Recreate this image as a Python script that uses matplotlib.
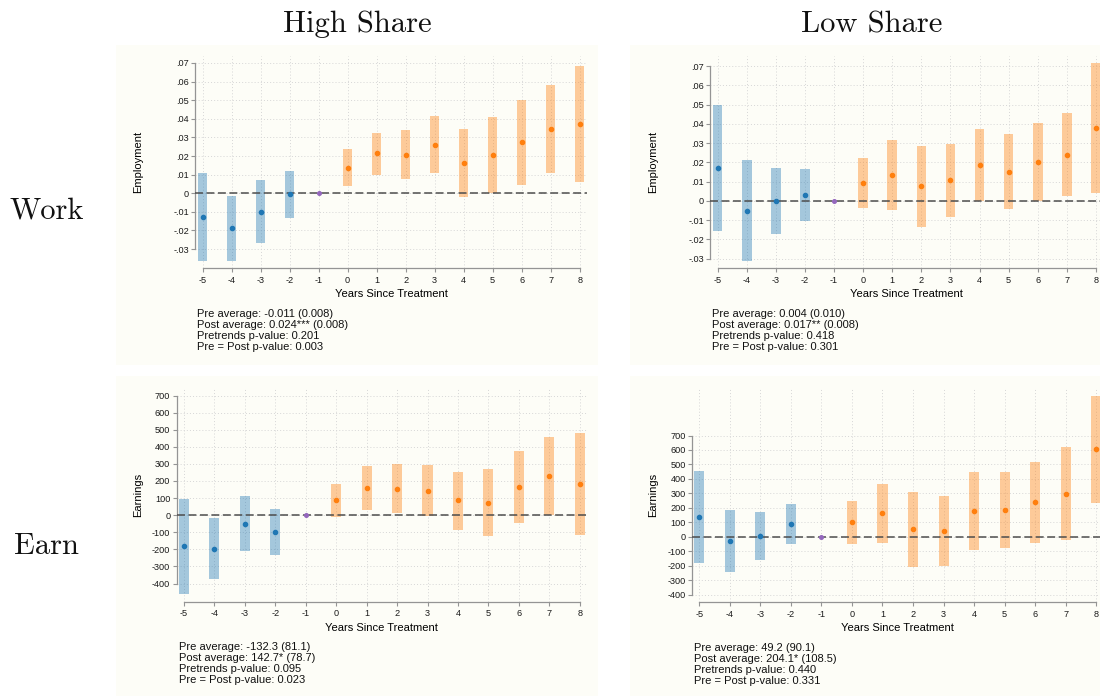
import numpy as np
import matplotlib.pyplot as plt
from matplotlib.patches import Rectangle
from matplotlib.ticker import FuncFormatter

plt.rcParams['font.family'] = 'Liberation Sans'
plt.rcParams['axes.unicode_minus'] = False

W, H = 1100, 696
nan = np.nan

years = np.arange(-5, 9)

# event-study coefficients with 95% CI bounds (year -1 is the reference)
emp_high = [-0.0126, -0.0189, -0.0099, -0.0005, 0.0, 0.0138, 0.0214, 0.0205, 0.0262, 0.0163, 0.0208, 0.0275, 0.0347, 0.0372]
emp_high_lo = [-0.0363, -0.0363, -0.0266, -0.0133, nan, 0.0041, 0.0099, 0.0074, 0.0110, -0.0020, 0.0000, 0.0047, 0.0110, 0.0061]
emp_high_hi = [0.0108, -0.0014, 0.0070, 0.0120, nan, 0.0237, 0.0325, 0.0339, 0.0415, 0.0347, 0.0411, 0.0499, 0.0583, 0.0684]

emp_low = [0.0173, -0.0050, 0.0000, 0.0031, 0.0, 0.0093, 0.0137, 0.0076, 0.0107, 0.0187, 0.0152, 0.0202, 0.0239, 0.0380]
emp_low_lo = [-0.0154, -0.0311, -0.0171, -0.0102, nan, -0.0036, -0.0047, -0.0135, -0.0083, 0.0002, -0.0043, 0.0001, 0.0024, 0.0041]
emp_low_hi = [0.0500, 0.0213, 0.0173, 0.0164, nan, 0.0223, 0.0316, 0.0287, 0.0294, 0.0372, 0.0347, 0.0403, 0.0455, 0.0716]

earn_high = [-181, -197, -49, -99, 0, 88, 160, 156, 144, 86, 74, 166, 230, 183]
earn_high_lo = [-462, -376, -212, -234, nan, -8, 29, 10, -6, -84, -119, -45, 1, -115]
earn_high_hi = [97, -19, 113, 37, nan, 181, 290, 300, 294, 255, 269, 376, 460, 483]

earn_low = [138, -30, 7, 85, 0, 99, 161, 51, 39, 175, 184, 237, 297, 604]
earn_low_lo = [-180, -244, -161, -53, nan, -51, -44, -207, -200, -94, -76, -44, -25, 230]
earn_low_hi = [456, 187, 170, 228, nan, 249, 366, 311, 283, 449, 445, 518, 620, 977]

emp_ticks = np.round(np.arange(-0.03, 0.0701, 0.01), 2)
earn_ticks = np.arange(-400, 701, 100)

stats_emp_high = ['Pre average: -0.011 (0.008)', 'Post average: 0.024*** (0.008)',
                  'Pretrends p-value: 0.201', 'Pre = Post p-value: 0.003']
stats_emp_low = ['Pre average: 0.004 (0.010)', 'Post average: 0.017** (0.008)',
                 'Pretrends p-value: 0.418', 'Pre = Post p-value: 0.301']
stats_earn_high = ['Pre average: -132.3 (81.1)', 'Post average: 142.7* (78.7)',
                   'Pretrends p-value: 0.095', 'Pre = Post p-value: 0.023']
stats_earn_low = ['Pre average: 49.2 (90.1)', 'Post average: 204.1* (108.5)',
                  'Pretrends p-value: 0.440', 'Pre = Post p-value: 0.331']

CREAM = '#fdfdf7'
BLUE = '#1f77b4'
ORANGE = '#ff7f0e'
PURPLE = '#9467bd'
SPINE = '#949494'


def fx(x):
    return x / W


def fy(y):
    return 1 - y / H


def stata_decimal(v, pos=None):
    if abs(v) < 1e-9:
        return '0'
    return ('%.2f' % v).replace('0.', '.')


def panel(fig, box, coef, lo, hi, ticks, ylabel, stats, ylab_x, fmt=None):
    left, right, top, bottom = box
    wpx, hpx = right - left, bottom - top
    ax = fig.add_axes([fx(left), fy(bottom), wpx / W, hpx / H])
    ax.set_facecolor('none')

    coef, lo, hi = np.array(coef, float), np.array(lo, float), np.array(hi, float)
    pre = years < -1
    post = years >= 0
    ref = years == -1

    ax.bar(years[pre], hi[pre] - lo[pre], bottom=lo[pre], width=0.33,
           color=BLUE, alpha=0.4, linewidth=0, zorder=2)
    ax.bar(years[post], hi[post] - lo[post], bottom=lo[post], width=0.33,
           color=ORANGE, alpha=0.4, linewidth=0, zorder=2)
    ax.axhline(0, color='#4d4d4d', lw=1.1, linestyle=(0, (5.2, 2.3)), zorder=3)
    ax.plot(years[pre], coef[pre], 'o', ms=3.0, color=BLUE, zorder=4)
    ax.plot(years[post], coef[post], 'o', ms=3.0, color=ORANGE, zorder=4)
    ax.plot(years[ref], coef[ref], 'o', ms=2.6, color=PURPLE, zorder=4)

    # pad limits by a fixed number of pixels around data and tick range
    ymin = min(np.nanmin(lo), ticks[0])
    ymax = max(np.nanmax(hi), ticks[-1])
    pad_y = (ymax - ymin) * 7.5 / (hpx - 15)
    ax.set_ylim(ymin - pad_y, ymax + pad_y)
    pad_x = 13 * 7.3 / (wpx - 14.6)
    ax.set_xlim(-5 - pad_x, 8 + pad_x)

    ax.set_xticks(years)
    ax.set_yticks(ticks)
    if fmt is not None:
        ax.yaxis.set_major_formatter(FuncFormatter(fmt))
    ax.tick_params(labelsize=6.6, length=3, width=0.8, color=SPINE,
                   labelcolor='#1a1a1a')
    ax.tick_params(axis='x', pad=2.5)
    ax.tick_params(axis='y', pad=1.6)

    for s in ['top', 'right']:
        ax.spines[s].set_visible(False)
    ax.spines['left'].set_bounds(ticks[0], ticks[-1])
    ax.spines['bottom'].set_bounds(-5, 8)
    for s in ['left', 'bottom']:
        ax.spines[s].set_color(SPINE)
        ax.spines[s].set_linewidth(0.9)

    ax.grid(True, color='#d6d6d6', lw=0.7, linestyle=(0, (1, 2.2)))
    ax.set_axisbelow(True)

    ax.set_xlabel('Years Since Treatment', fontsize=8)
    ax.xaxis.set_label_coords(0.5, -26.0 / hpx)
    ax.xaxis.label.set_va('center')
    ax.set_ylabel(ylabel, fontsize=8)
    ax.yaxis.set_label_coords((ylab_x - left) / wpx, 0.5)
    ax.yaxis.label.set_va('center')

    for i, line in enumerate(stats):
        fig.text(fx(left + 2), fy(bottom + 45.7 + 11 * i), line,
                 fontsize=8, va='center', ha='left', color='#111111')
    return ax


fig = plt.figure(figsize=(W / 100, H / 100), dpi=100)
fig.patch.set_facecolor('white')

# light panel backgrounds
for x0, y0 in [(116, 45), (630, 45), (116, 376), (630, 376)]:
    fig.add_artist(Rectangle((fx(x0), fy(y0 + 320)), 482 / W, 320 / H,
                             transform=fig.transFigure, facecolor=CREAM,
                             edgecolor='none', zorder=0))

panel(fig, (195.3, 587.0, 55.5, 268.3), emp_high, emp_high_lo, emp_high_hi,
      emp_ticks, 'Employment', stats_emp_high, 138.3, stata_decimal)
panel(fig, (710.3, 1103.3, 55.5, 268.3), emp_low, emp_low_lo, emp_low_hi,
      emp_ticks, 'Employment', stats_emp_low, 652.7, stata_decimal)
panel(fig, (176.7, 587.0, 388.0, 601.7), earn_high, earn_high_lo, earn_high_hi,
      earn_ticks, 'Earnings', stats_earn_high, 138.3)
panel(fig, (692.0, 1103.5, 388.0, 602.0), earn_low, earn_low_lo, earn_low_hi,
      earn_ticks, 'Earnings', stats_earn_low, 652.7)

# column and row headings
for x, label in [(357, 'High Share'), (872, 'Low Share')]:
    fig.text(fx(x), fy(32.3), label, fontfamily='cmr10', fontsize=22,
             ha='center', va='baseline', color='#111111')
for y, label in [(218.3, 'Work'), (554.0, 'Earn')]:
    fig.text(fx(46.7), fy(y), label, fontfamily='cmr10', fontsize=22,
             ha='center', va='baseline', color='#111111')

fig.savefig('out.png', dpi=100)
